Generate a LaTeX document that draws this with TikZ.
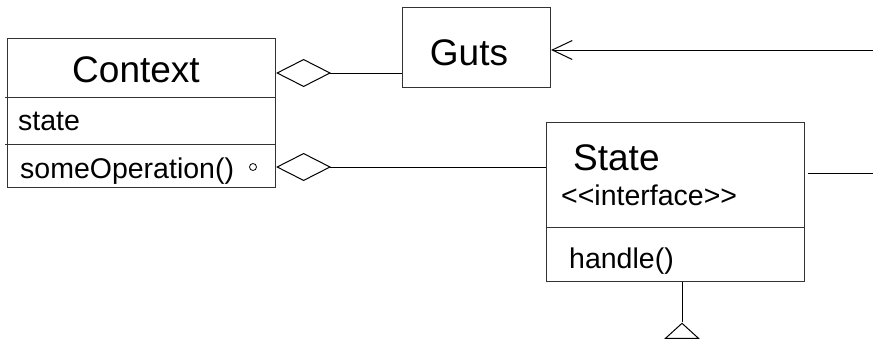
\documentclass[tikz,border=0pt]{standalone}
\usepackage{fontspec}
\setmainfont{Liberation Sans}
\usetikzlibrary{arrows.meta,shapes.geometric}
\begin{document}
\begin{tikzpicture}[x=1pt,y=-1pt,
  box/.style={draw=black!80, line width=1.1pt, inner sep=0pt, anchor=north west},
  conn/.style={draw=black, line width=1pt},
  big/.style={font=\fontsize{37}{40}\selectfont, inner sep=0pt},
  small/.style={font=\fontsize{28.5}{32}\selectfont, inner sep=0pt, anchor=base west},
  agg/.style={conn, -{Diamond[open, length=55pt, width=28pt, line width=1pt]}},
  nav/.style={conn, -{Straight Barb[length=20pt, width=19pt, line width=1pt]}}]
\useasboundingbox (0,0) rectangle (873,348);
% Context class
\node[box, minimum width=268pt, minimum height=149pt] (ctx) at (7,38) {};
\node[big, anchor=base] (ctxname) at (136,82) {Context};
\draw[draw=black!80, line width=1pt] (5,97) -- (ctx.east |- 0,97);
\draw[draw=black!80, line width=1pt] (5,144) -- (ctx.east |- 0,144);
\node[small] (ctxattr) at (18,130) {state};
\node[small] (ctxop) at (20,178) {someOperation()};
\node[draw, circle, line width=0.8pt, minimum size=7pt, inner sep=0pt] (dot) at (253,167) {};
% Guts class
\node[box, minimum width=148pt, minimum height=80pt] (guts) at (402,7) {};
\node[big, anchor=base] (gutsname) at (469,65) {Guts};
% State class
\node[box, minimum width=258pt, minimum height=159pt] (state) at (546,122) {};
\draw[draw=black!80, line width=1pt] (state.west |- 0,227) -- (state.east |- 0,227);
\node[big, anchor=base west] (statename) at (573,170) {State};
\node[small] (stereo) at (561,205) {<{}<interface>{}>};
\node[small] (stateop) at (569,268) {handle()};
% inheritance triangle
\node[draw, line width=1pt, isosceles triangle, isosceles triangle stretches, shape border rotate=90,
      minimum width=33pt, minimum height=15pt, inner sep=0pt, anchor=apex] (tri) at (682,322) {};
% free ends at the right edge
\coordinate (r1) at (873,50);
\coordinate (r2) at (873,173);
% connectors
\draw[agg] (guts.west |- 0,73) -- (ctx.east |- 0,73);
\draw[agg] (state.west |- 0,167) -- (ctx.east |- 0,167);
\draw[nav] (r1) -- (guts.east |- r1);
\draw[conn] ([xshift=3pt]state.east |- r2) -- (r2);
\draw[conn] (state.south -| tri.apex) -- (tri.apex);
\end{tikzpicture}
\end{document}
